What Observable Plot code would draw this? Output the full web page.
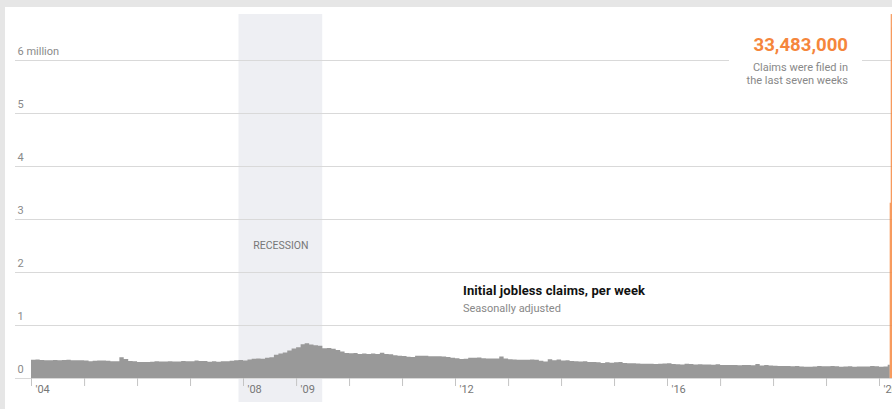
<!DOCTYPE html>
<html>
<head>
<meta charset="utf-8">
<script src="https://cdn.jsdelivr.net/npm/d3@7"></script>
<script src="https://cdn.jsdelivr.net/npm/@observablehq/plot@0.6"></script>
<style>
  html, body { margin: 0; padding: 0; background: #fff; }
  #page { position: relative; width: 892px; height: 409px; background: #e6e6e6; overflow: hidden; font-family: Roboto, "Liberation Sans", sans-serif; }
  #chart { position: absolute; left: 5px; top: 7px; width: 887px; height: 402px; background: #fff; overflow: hidden; }
  #note { position: absolute; left: 729px; top: 34px; width: 119px; padding-right: 14px; background: #fff; text-align: right; }
  #note .big { color: #f5863c; font-weight: 700; font-size: 18.6px; line-height: 22px; }
  #note .small { color: #888; font-size: 11px; line-height: 13px; margin-top: 5px; }
  #label { position: absolute; left: 463px; top: 282px; }
  #label .t { font-weight: 700; font-size: 13px; color: #111; line-height: 17px; letter-spacing: 0.1px; }
  #label .s { font-size: 11px; color: #888; line-height: 17px; margin-top: 1px; }
</style>
</head>
<body>
<div id="page">
  <div id="chart"></div>
  <div id="note">
    <div class="big">33,483,000</div>
    <div class="small">Claims were filed in<br>the last seven weeks</div>
  </div>
  <div id="label">
    <div class="t">Initial jobless claims, per week</div>
    <div class="s">Seasonally adjusted</div>
  </div>
</div>
<script>
// Monthly average initial claims, seasonally adjusted (thousands)
const claims2004 = [345, 350, 340, 335, 335, 340, 335, 340, 345, 335, 335, 335];
const claims2005 = [330, 315, 325, 330, 330, 325, 315, 315, 390, 360, 320, 315];
const claims2006 = [300, 300, 300, 305, 315, 310, 310, 315, 310, 310, 320, 315];
const claims2007 = [315, 330, 320, 320, 305, 315, 305, 315, 315, 325, 335, 340];
const claims2008 = [330, 350, 365, 370, 365, 380, 390, 440, 460, 480, 520, 555];
const claims2009 = [580, 635, 655, 630, 620, 610, 560, 565, 550, 530, 500, 470];
const claims2010 = [465, 470, 455, 460, 455, 460, 455, 475, 455, 450, 430, 420];
const claims2011 = [415, 400, 395, 420, 420, 420, 410, 410, 410, 405, 395, 380];
const claims2012 = [375, 360, 365, 380, 380, 385, 375, 370, 370, 370, 405, 370];
const claims2013 = [355, 350, 345, 345, 345, 350, 345, 325, 310, 355, 335, 350];
const claims2014 = [330, 335, 320, 315, 310, 315, 300, 300, 295, 285, 295, 290];
const claims2015 = [295, 300, 285, 280, 280, 275, 270, 270, 270, 265, 270, 275];
const claims2016 = [280, 265, 260, 255, 270, 265, 255, 260, 255, 255, 250, 260];
const claims2017 = [245, 245, 245, 245, 240, 245, 245, 240, 265, 235, 245, 235];
const claims2018 = [230, 225, 225, 225, 220, 225, 215, 210, 210, 215, 225, 220];
const claims2019 = [220, 225, 220, 210, 215, 220, 210, 215, 215, 215, 225, 220];
const claims2020 = [210, 215, 250]; // Jan, Feb, first half of March
const grayEnd = "2020-03-15";

// Weekly claims during the last seven weeks (thousands), weeks starting
const weekStarts = ["2020-03-15", "2020-03-22", "2020-03-29", "2020-04-05", "2020-04-12", "2020-04-19", "2020-04-26"];
const weekClaims = [3307, 6867, 6615, 5237, 4442, 3846, 3169];
const weeksEnd = "2020-05-03";

// Axis
const yTicks = [0, 1, 2, 3, 4, 5, 6];
const yTickLabels = ["0", "1", "2", "3", "4", "5", "6 million"];
const tickYears = [2004, 2005, 2006, 2007, 2008, 2009, 2010, 2011, 2012, 2013, 2014, 2015, 2016, 2017, 2018, 2019, 2020];
const labelYears = [2004, 2008, 2009, 2012, 2016, 2020];
const recession = {start: "2007-12-01", end: "2009-06-30", label: "RECESSION"};

// Build tables
const yearsArr = [claims2004, claims2005, claims2006, claims2007, claims2008, claims2009, claims2010, claims2011,
  claims2012, claims2013, claims2014, claims2015, claims2016, claims2017, claims2018, claims2019, claims2020];
const gray = [];
yearsArr.forEach((arr, i) => arr.forEach((v, m) => gray.push({date: new Date(Date.UTC(2004 + i, m, 1)), value: v / 1000})));
gray.push({date: new Date(grayEnd), value: gray[gray.length - 1].value});

const orange = weekStarts.map((s, i) => ({
  start: new Date(s),
  end: new Date(i + 1 < weekStarts.length ? weekStarts[i + 1] : weeksEnd),
  value: weekClaims[i] / 1000
}));
const yearDate = y => new Date(Date.UTC(y, 0, 1));

const chart = Plot.plot({
  width: 887,
  height: 402,
  marginLeft: 10,
  marginRight: 0,
  marginTop: 7,
  marginBottom: 31,
  style: {fontFamily: "Roboto, 'Liberation Sans', sans-serif", fontSize: "11px", background: "#fff", overflow: "hidden"},
  x: {type: "utc", domain: [yearDate(2004), yearDate(2020)], range: [26, 874]},
  y: {domain: [0, 6], range: [371, 53], axis: null},
  marks: [
    Plot.rect([recession], {x1: d => new Date(d.start), x2: d => new Date(d.end), fill: "#eeeff3", insetBottom: -24}),
    Plot.gridY(yTicks, {stroke: "#d9d9d9", strokeOpacity: 1}),
    Plot.text(yTicks, {y: d => d, text: (d, i) => yTickLabels[i], frameAnchor: "left", textAnchor: "start", dx: 2, dy: -9, fill: "#8a8a8a", fontSize: 11}),
    Plot.text([recession], {x: d => new Date((+new Date(d.start) + +new Date(d.end)) / 2), y: 2.5, text: "label", fill: "#777", fontSize: 10.5}),
    Plot.areaY(gray, {x: "date", y: "value", curve: "step-after", fill: "#999"}),
    Plot.rectY(orange, {x1: "start", x2: "end", y: "value", fill: "#f5863c"}),
    Plot.axisX({ticks: tickYears.map(yearDate), tickSize: 8, tickFormat: () => "", stroke: "#c4c4c4", label: null}),
    Plot.text(labelYears, {x: yearDate, text: d => "'" + String(d).slice(2), frameAnchor: "bottom", dy: 14, dx: 4, textAnchor: "start", fill: "#777", fontSize: 11})
  ]
});
document.getElementById("chart").appendChild(chart);
</script>
</body>
</html>
